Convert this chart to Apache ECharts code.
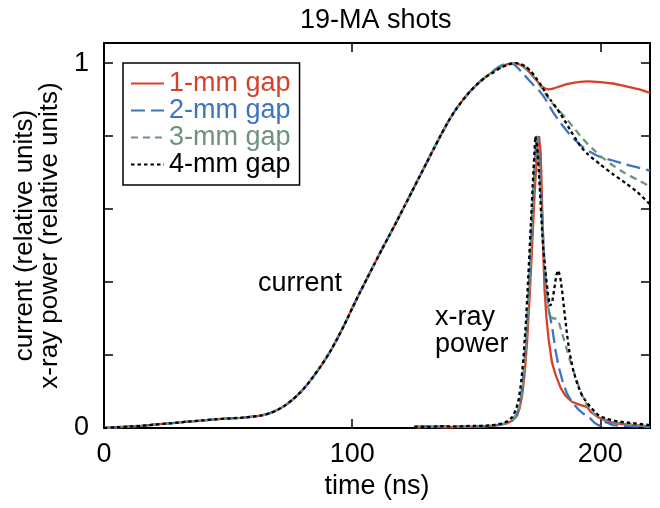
<!DOCTYPE html>
<html><head><meta charset="utf-8">
<script src="https://cdn.jsdelivr.net/npm/echarts@6/dist/echarts.min.js"></script>
<style>html,body{margin:0;padding:0;background:#fff}#c{width:660px;height:508px}</style>
</head><body><div id="c"></div>
<script>
const gapNames = ['1-mm gap', '2-mm gap', '3-mm gap', '4-mm gap'];
const xTickLabels = [0, 100, 200];
const yTickLabels = [0, 1];

// shared rising part of the current (relative units)
const currentRise = [[0,0],[5,0.002],[10,0.004],[15,0.006],[20,0.009],[25,0.012],[30,0.015],[35,0.018],[40,0.021],[45,0.024],[50,0.026],[55,0.028],[60,0.031],[64,0.035],[67,0.041],[70,0.05],[73,0.062],[76,0.078],[79,0.097],[82,0.12],[85,0.147],[88,0.176],[91,0.208],[94,0.245],[97,0.285],[100,0.328],[103,0.37],[106,0.41],[109,0.45],[112,0.49],[115,0.528],[118,0.567],[121,0.607],[124,0.647],[127,0.687],[130,0.727],[133,0.767],[136,0.806],[139,0.843],[142,0.875],[145,0.902],[148,0.926],[151,0.946],[154,0.963]];

const currentTail1 = [[157,0.978],[160,0.99],[163,0.998],[165,1.0],[167,0.997],[169,0.99],[171,0.978],[173,0.963],[175,0.947],[177,0.933],[179,0.928],[181,0.93],[184,0.937],[187,0.943],[191,0.948],[195,0.95],[200,0.948],[205,0.944],[210,0.937],[215,0.929],[220,0.918]];
const currentTail2 = [[157,0.98],[160,0.993],[163,1.0],[165,0.997],[167,0.985],[169,0.97],[171,0.955],[173,0.94],[175,0.927],[177,0.91],[179,0.888],[181,0.865],[183,0.845],[185,0.827],[187,0.81],[189,0.795],[192,0.775],[195,0.76],[200,0.743],[205,0.733],[210,0.723],[215,0.714],[220,0.705]];
const currentTail3 = [[157,0.977],[160,0.99],[163,0.998],[165,1.0],[167,0.997],[169,0.99],[171,0.978],[173,0.962],[175,0.945],[177,0.925],[180,0.895],[183,0.872],[186,0.85],[189,0.825],[192,0.8],[195,0.777],[198,0.758],[201,0.74],[205,0.72],[210,0.698],[215,0.68],[220,0.662]];
const currentTail4 = [[157,0.975],[160,0.988],[163,0.996],[166,1.0],[168,0.997],[170,0.99],[172,0.977],[174,0.96],[176,0.94],[178,0.918],[180,0.898],[182,0.88],[184,0.86],[186,0.838],[188,0.815],[190,0.793],[192,0.772],[195,0.75],[200,0.722],[205,0.696],[210,0.672],[215,0.646],[220,0.613]];

const xray1 = [[126,0.002],[132,0.004],[138,0.002],[144,0.003],[150,0.004],[155,0.005],[159,0.008],[162,0.012],[164.5,0.02],[166.5,0.035],[167.5,0.055],[168.5,0.09],[169.5,0.15],[170.5,0.24],[171.5,0.36],[172.5,0.5],[173.5,0.64],[174.5,0.76],[175.3,0.8],[175.9,0.76],[176.4,0.65],[176.9,0.5],[177.5,0.38],[178.3,0.3],[179.2,0.24],[180.5,0.18],[182,0.145],[184,0.11],[186,0.088],[188.5,0.072],[191.5,0.064],[194.5,0.058],[196.5,0.042],[199,0.03],[202,0.02],[206,0.013],[211,0.009],[216,0.006],[220,0.004]];
const xray2 = [[125,0.003],[131,0.005],[137,0.003],[143,0.004],[149,0.003],[154,0.005],[158,0.008],[161,0.011],[164,0.018],[166,0.032],[167,0.05],[168,0.085],[169,0.145],[170,0.235],[171,0.355],[172,0.5],[173,0.65],[174,0.775],[174.6,0.8],[175.3,0.76],[176,0.66],[176.7,0.56],[177.4,0.46],[178.2,0.38],[179.3,0.32],[180.6,0.275],[182,0.21],[183.3,0.165],[184.7,0.13],[186.5,0.095],[188.7,0.07],[191,0.052],[193,0.04],[195.4,0.03],[197.5,0.015],[199.5,0.006],[201,0.018],[203,0.014],[205,0.008],[210,0.006],[215,0.004],[220,0.003]];
const xray3 = [[126,0.004],[132,0.003],[138,0.005],[144,0.003],[150,0.005],[155,0.006],[159,0.009],[162,0.013],[164.5,0.022],[166.5,0.04],[167.5,0.06],[168.5,0.1],[169.5,0.17],[170.5,0.27],[171.5,0.4],[172.5,0.55],[173.5,0.7],[174.3,0.8],[175,0.77],[175.8,0.67],[176.6,0.56],[177.4,0.46],[178.2,0.38],[179,0.33],[180,0.305],[181,0.3],[182.3,0.3],[183.5,0.285],[185,0.25],[186.5,0.215],[188,0.18],[190,0.14],[192,0.1],[194,0.07],[196,0.048],[199,0.03],[203,0.02],[208,0.013],[214,0.008],[220,0.005]];
const xray4 = [[125,0.004],[130,0.003],[136,0.005],[142,0.004],[148,0.006],[153,0.006],[157,0.008],[160,0.012],[162.5,0.018],[164.5,0.03],[166,0.05],[167,0.075],[168,0.12],[169,0.19],[170,0.29],[171,0.42],[172,0.56],[173,0.7],[173.8,0.8],[174.6,0.77],[175.4,0.68],[176.2,0.58],[177,0.49],[178,0.42],[179,0.36],[179.8,0.335],[180.6,0.345],[181.5,0.385],[182.3,0.42],[183,0.432],[183.8,0.415],[184.6,0.375],[185.5,0.32],[186.5,0.26],[187.5,0.21],[189,0.16],[190.5,0.125],[192.5,0.09],[194.5,0.07],[197,0.05],[199.5,0.033],[203,0.024],[207,0.018],[212,0.014],[216,0.011],[220,0.008]];

const currentTails = [currentTail1, currentTail2, currentTail3, currentTail4];
const xrays = [xray1, xray2, xray3, xray4];

const colors = ['#d9402a', '#3c74c2', '#6d9478', '#000000'];
const dashes = ['solid', [14, 6], [7, 5], [3.5, 3]];
const FONT = '"Liberation Sans", Arial, Helvetica, sans-serif';
const FS = 27;

const series = [];
gapNames.forEach((n, i) => {
  series.push({
    name: n, type: 'line', symbol: 'none', smooth: 0.2, z: 2 + i,
    data: currentRise.concat(currentTails[i]),
    lineStyle: { color: colors[i], width: 2.3, type: dashes[i] },
    itemStyle: { color: colors[i] }
  });
});
gapNames.forEach((n, i) => {
  series.push({
    name: n, type: 'line', symbol: 'none', z: 2 + i,
    data: xrays[i],
    lineStyle: { color: colors[i], width: 2.3, type: dashes[i] },
    itemStyle: { color: colors[i] }
  });
});

const baseAxis = {
  type: 'value', min: 0,
  axisLine: { show: true, onZero: false, lineStyle: { color: '#000', width: 2 } },
  axisTick: { show: true, inside: true, length: 9, lineStyle: { color: '#000', width: 1.5 } },
  splitLine: { show: false }
};

const chart = echarts.init(document.getElementById('c'), null, { renderer: 'canvas' });
chart.setOption({
  animation: false,
  backgroundColor: '#fff',
  textStyle: { fontFamily: FONT },
  title: {
    text: '19-MA shots', left: 300, top: 7, padding: 0,
    textStyle: { fontFamily: FONT, fontSize: FS, fontWeight: 'normal', color: '#000' }
  },
  grid: { left: 104, right: 10, top: 43, bottom: 80, containLabel: false },
  legend: {
    orient: 'vertical', left: 123, top: 63,
    padding: [7, 9, 7, 7], itemGap: 0, itemWidth: 33, itemHeight: 14,
    borderColor: '#000', borderWidth: 1.5, backgroundColor: '#fff',
    itemStyle: { color: 'rgba(0,0,0,0)', borderWidth: 0, borderColor: 'rgba(0,0,0,0)' },
    data: gapNames.map((n, i) => ({ name: n, textStyle: { color: colors[i] } })),
    textStyle: { fontFamily: FONT, fontSize: FS, lineHeight: 27, padding: [0, 0, 0, 0] },
    selectedMode: false
  },
  xAxis: [
    Object.assign({}, baseAxis, {
      position: 'bottom', max: 220, interval: 100,
      name: 'time (ns)', nameLocation: 'middle', nameGap: 44,
      nameTextStyle: { fontFamily: FONT, fontSize: FS, color: '#000' },
      axisLabel: { margin: 13, fontFamily: FONT, fontSize: FS, color: '#000',
        formatter: v => xTickLabels.indexOf(v) >= 0 ? String(v) : '' }
    }),
    Object.assign({}, baseAxis, {
      position: 'top', max: 220, interval: 100, axisLabel: { show: false }
    })
  ],
  yAxis: [
    Object.assign({}, baseAxis, {
      position: 'left', max: 1.055, interval: 0.2,
      name: 'current (relative units)\nx-ray power (relative units)',
      nameLocation: 'middle', nameGap: 42, nameRotate: 90,
      nameTextStyle: { fontFamily: FONT, fontSize: 26, color: '#000', lineHeight: 25 },
      axisLabel: { margin: 15, fontFamily: FONT, fontSize: FS, color: '#000',
        formatter: v => yTickLabels.indexOf(Math.round(v * 1000) / 1000) >= 0 ? String(v) : '' }
    }),
    Object.assign({}, baseAxis, {
      position: 'right', max: 1.055, interval: 0.2, axisLabel: { show: false }
    })
  ],
  graphic: [
    { type: 'text', left: 258, top: 270, style: { text: 'current', fontFamily: FONT, fontSize: FS, fill: '#000' } },
    { type: 'text', left: 435, top: 304, style: { text: 'x-ray\npower', fontFamily: FONT, fontSize: FS, lineHeight: 27, fill: '#000' } }
  ],
  series: series
});
</script>
</body></html>
